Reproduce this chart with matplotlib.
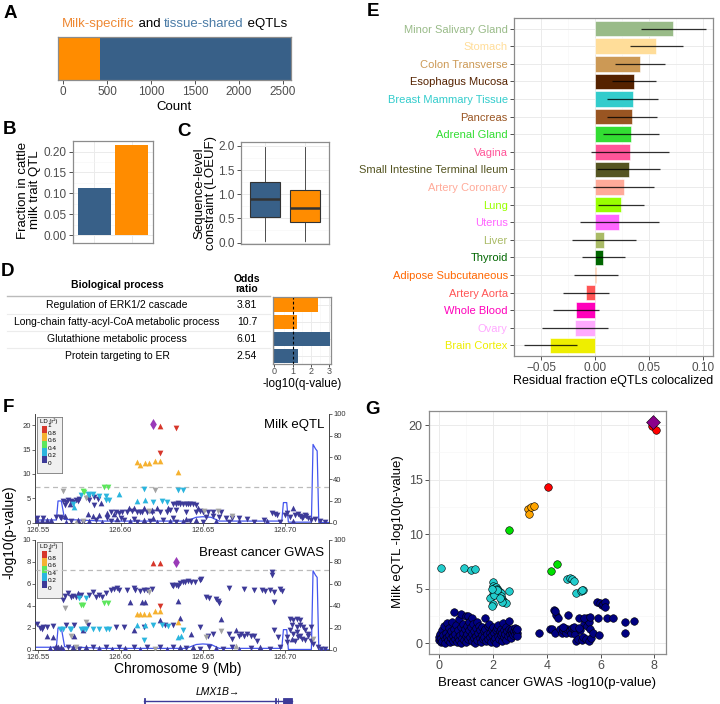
import matplotlib
matplotlib.use('Agg')
import matplotlib.pyplot as plt
from matplotlib.patches import Rectangle
from matplotlib.ticker import AutoMinorLocator

plt.rcParams['font.family'] = ['Liberation Sans', 'DejaVu Sans']

W, H = 720, 704
fig = plt.figure(figsize=(W / 100, H / 100), dpi=100)

BLUE = '#386088'
ORANGE = '#FF8C00'

# ---------------- data ----------------
# A
a_milk_specific = 420
a_tissue_shared = 2170

# B
b_groups = ['tissue-shared', 'milk-specific']
b_fraction = [0.112, 0.215]

# C (box statistics, LOEUF)
c_shared = dict(whislo=0.03, q1=0.52, med=0.90, q3=1.26, whishi=1.97, fliers=[])
c_milk = dict(whislo=0.03, q1=0.43, med=0.72, q3=1.08, whishi=1.98, fliers=[])

# D
d_terms = ['Regulation of ERK1/2 cascade',
           'Long-chain fatty-acyl-CoA metabolic process',
           'Glutathione metabolic process',
           'Protein targeting to ER']
d_odds = ['3.81', '10.7', '6.01', '2.54']
d_logq = [2.38, 1.21, 3.03, 1.27]
d_group = ['milk', 'milk', 'shared', 'shared']

# E
e_tissues = ['Minor Salivary Gland', 'Stomach', 'Colon Transverse', 'Esophagus Mucosa',
             'Breast Mammary Tissue', 'Pancreas', 'Adrenal Gland', 'Vagina',
             'Small Intestine Terminal Ileum', 'Artery Coronary', 'Lung', 'Uterus',
             'Liver', 'Thyroid', 'Adipose Subcutaneous', 'Artery Aorta', 'Whole Blood',
             'Ovary', 'Brain Cortex']
e_resid = [0.0719, 0.0565, 0.0414, 0.0355, 0.0346, 0.0340, 0.0333, 0.0321, 0.0312, 0.0265,
           0.0238, 0.0225, 0.0080, 0.0071, 0.0006, -0.0083, -0.0176, -0.0182, -0.0414]
e_lo = [0.0423, 0.0318, 0.0182, 0.0154, 0.0114, 0.0111, 0.0077, -0.0037, 0.0022, -0.0015,
        0.0025, -0.0139, -0.0210, -0.0120, -0.0191, -0.0296, -0.0389, -0.0491, -0.0660]
e_hi = [0.1022, 0.0815, 0.0645, 0.0562, 0.0580, 0.0571, 0.0590, 0.0682, 0.0599, 0.0549,
        0.0450, 0.0593, 0.0377, 0.0272, 0.0210, 0.0127, 0.0034, 0.0117, -0.0167]
e_colors = ['#99BB88', '#FFDD99', '#CC9955', '#552200', '#33CCCC', '#995522', '#33DD33',
            '#FF5599', '#555522', '#FFAA99', '#99FF00', '#FF66FF', '#AABB66', '#006600',
            '#FF6600', '#FF5555', '#FF00BB', '#FFAAFF', '#EEEE00']

# F  (position Mb, -log10 p, direction u/d)
eqtl_lead = [(126.620, 20.2)]
eqtl_red = [(126.624, 19.9, 'u'), (126.634, 19.5, 'd'), (126.624, 14.2, 'd')]
eqtl_orange = [(126.610, 12.5, 'u'), (126.612, 11.85, 'u'), (126.615, 12.3, 'u'), (126.617, 12.3, 'u'),
               (126.621, 12.7, 'u'), (126.624, 12.6, 'u'), (126.635, 10.5, 'u')]
eqtl_green = [(126.577, 6.6, 'd'), (126.578, 6.2, 'd'), (126.590, 7.3, 'd'), (126.5925, 7.25, 'd')]
eqtl_cyan = [(126.576, 5.7, 'd'), (126.580, 5.95, 'd'), (126.581, 5.7, 'd'), (126.583, 5.8, 'd'),
             (126.587, 5.55, 'd'), (126.591, 5.55, 'd'), (126.591, 4.66, 'd'), (126.593, 4.66, 'd'),
             (126.599, 5.8, 'u'), (126.614, 6.85, 'd'), (126.635, 6.65, 'd'), (126.638, 6.7, 'd'),
             (126.610, 4.45, 'u'), (126.615, 4.66, 'u'), (126.620, 4.3, 'd'), (126.625, 4.45, 'd'),
             (126.628, 4.3, 'd'), (126.572, 3.3, 'u'), (126.571, 3.8, 'd')]
eqtl_grey = [(126.565, 6.5, 'd'), (126.621, 6.7, 'd'), (126.579, 5.0, 'd'), (126.651, 2.3, 'd'),
             (126.659, 2.3, 'd'), (126.617, 2.3, 'd'), (126.573, 0.2, 'u'), (126.577, 0.3, 'd'),
             (126.668, 1.4, 'd')]
eqtl_navy = [
    (126.549, 0.5, 'u'), (126.552, 0.6, 'u'), (126.555, 0.5, 'u'), (126.558, 0.55, 'u'),
    (126.549, 0.9, 'd'), (126.553, 0.9, 'd'), (126.561, 1.2, 'd'), (126.563, 1.2, 'd'),
    (126.566, 1.3, 'u'), (126.564, 0.9, 'd'),
    (126.565, 4.45, 'd'), (126.567, 4.2, 'd'), (126.568, 4.66, 'd'), (126.570, 4.45, 'd'),
    (126.571, 4.3, 'd'), (126.573, 4.66, 'd'), (126.574, 4.45, 'd'), (126.575, 4.86, 'd'),
    (126.580, 5.14, 'd'), (126.581, 4.66, 'd'), (126.584, 5.34, 'd'), (126.586, 4.86, 'd'),
    (126.584, 3.63, 'd'), (126.569, 3.9, 'u'), (126.588, 4.0, 'u'), (126.566, 3.6, 'd'),
    (126.580, 1.7, 'u'), (126.583, 1.44, 'u'), (126.587, 1.58, 'u'), (126.592, 1.9, 'u'),
    (126.596, 1.7, 'u'),
    (126.594, 2.1, 'd'), (126.597, 2.26, 'd'), (126.599, 1.92, 'd'), (126.601, 2.12, 'd'),
    (126.604, 2.26, 'd'), (126.607, 2.4, 'd'), (126.610, 2.12, 'd'), (126.612, 2.26, 'd'),
    (126.613, 2.26, 'd'), (126.616, 2.12, 'd'), (126.619, 2.26, 'd'), (126.624, 2.12, 'd'),
    (126.628, 2.26, 'd'), (126.630, 2.6, 'd'), (126.634, 2.6, 'd'), (126.640, 2.26, 'd'),
    (126.646, 2.12, 'd'), (126.648, 2.4, 'd'),
    (126.605, 2.95, 'u'), (126.608, 3.08, 'u'), (126.614, 2.95, 'u'), (126.619, 2.6, 'u'),
    (126.622, 2.95, 'u'), (126.629, 3.08, 'u'),
    (126.632, 3.9, 'd'), (126.634, 3.9, 'd'), (126.635, 3.97, 'd'), (126.636, 3.84, 'd'),
    (126.638, 3.9, 'd'), (126.640, 3.9, 'd'), (126.641, 3.84, 'd'), (126.642, 3.77, 'd'),
    (126.644, 3.77, 'd'), (126.646, 3.63, 'd'), (126.647, 2.95, 'u'),
    (126.650, 2.12, 'd'), (126.653, 2.26, 'd'), (126.656, 2.26, 'd'), (126.661, 2.26, 'd'),
    (126.652, 1.23, 'd'), (126.656, 1.44, 'd'), (126.660, 1.23, 'd'), (126.664, 1.03, 'd'),
    (126.668, 1.03, 'd'), (126.672, 0.89, 'd'), (126.677, 0.75, 'd'),
    (126.687, 0.55, 'd'), (126.692, 1.92, 'd'), (126.694, 1.71, 'd'), (126.695, 1.58, 'd'),
    (126.700, 1.58, 'd'), (126.701, 1.92, 'd'), (126.703, 1.23, 'd'), (126.705, 2.95, 'u'),
    (126.706, 1.58, 'd'), (126.708, 1.71, 'd'), (126.709, 1.44, 'd'), (126.710, 1.03, 'd'),
    (126.711, 1.23, 'd'), (126.712, 1.58, 'd'), (126.713, 1.44, 'd'), (126.714, 0.89, 'd'),
    (126.716, 0.55, 'd'), (126.718, 0.75, 'd'), (126.721, 0.34, 'd'), (126.724, 0.2, 'd'),
    (126.567, 0.2, 'u'), (126.570, 0.34, 'd'), (126.574, 0.55, 'u'), (126.577, 0.2, 'd'),
    (126.581, 0.34, 'u'), (126.585, 0.48, 'd'), (126.589, 0.2, 'u'), (126.594, 0.34, 'd'),
    (126.598, 0.75, 'u'), (126.602, 0.48, 'd'), (126.606, 0.34, 'u'), (126.610, 0.2, 'd'),
    (126.614, 0.55, 'u'), (126.618, 0.34, 'd'), (126.622, 0.2, 'u'), (126.626, 0.48, 'd'),
    (126.630, 0.34, 'u'), (126.634, 0.2, 'd'), (126.638, 0.41, 'u'), (126.642, 0.27, 'd'),
    (126.646, 0.48, 'u'), (126.650, 0.2, 'd'), (126.658, 0.34, 'u'), (126.666, 0.2, 'd'),
    (126.672, 0.41, 'u'), (126.681, 0.2, 'd'), (126.689, 0.34, 'u'), (126.697, 0.2, 'd'),
    (126.705, 0.34, 'u'), (126.592, 0.9, 'd'), (126.600, 1.0, 'd'), (126.608, 0.8, 'd'),
    (126.620, 1.0, 'u'), (126.632, 0.9, 'd'), (126.640, 0.8, 'u')]

gwas_lead = [(126.634, 8.0)]
gwas_red = [(126.620, 7.9, 'u'), (126.624, 7.9, 'u'), (126.624, 4.0, 'd')]
gwas_orange = [(126.610, 3.3, 'u'), (126.612, 3.3, 'u'), (126.614, 3.3, 'u'), (126.617, 3.3, 'u'),
               (126.621, 3.55, 'u'), (126.624, 3.55, 'u'), (126.635, 2.55, 'u')]
gwas_green = [(126.576, 4.1, 'd'), (126.577, 4.05, 'd'), (126.590, 4.3, 'd'), (126.5925, 4.3, 'd')]
gwas_cyan = [(126.563, 1.95, 'd'), (126.565, 1.95, 'd'), (126.569, 1.95, 'd'), (126.570, 1.9, 'd'),
             (126.576, 1.95, 'd'), (126.578, 1.95, 'd'), (126.579, 1.9, 'd'), (126.583, 1.95, 'd'),
             (126.587, 1.95, 'd'), (126.591, 1.95, 'd'), (126.593, 1.9, 'd'),
             (126.575, 4.75, 'd'), (126.579, 4.75, 'd'), (126.610, 2.25, 'u'), (126.615, 2.3, 'u'),
             (126.620, 2.3, 'd'), (126.625, 2.25, 'd'), (126.629, 2.15, 'd'), (126.635, 1.2, 'u'),
             (126.637, 1.3, 'u'), (126.638, 1.85, 'd'), (126.614, 0.9, 'd')]
gwas_grey = [(126.566, 3.85, 'd'), (126.579, 2.55, 'd'), (126.617, 5.25, 'd'), (126.570, 1.3, 'd'),
             (126.652, 1.15, 'd'), (126.661, 1.7, 'd'), (126.621, 0.1, 'd'), (126.670, 0.4, 'u'),
             (126.717, 1.0, 'd'), (126.573, 0.25, 'd')]
gwas_navy = [
    (126.549, 2.4, 'd'), (126.551, 2.0, 'd'), (126.553, 2.1, 'd'), (126.552, 1.95, 'd'),
    (126.555, 2.1, 'd'), (126.555, 1.3, 'u'), (126.559, 1.15, 'u'), (126.561, 0.4, 'u'),
    (126.562, 0.25, 'u'), (126.564, 0.3, 'u'), (126.560, 0.1, 'd'), (126.557, 0.2, 'u'),
    (126.559, 2.15, 'd'),
    (126.565, 4.55, 'd'), (126.566, 4.95, 'd'), (126.568, 5.15, 'd'), (126.570, 4.85, 'd'),
    (126.571, 4.95, 'd'), (126.573, 4.85, 'd'), (126.574, 5.15, 'u'), (126.576, 5.0, 'd'),
    (126.581, 5.0, 'd'), (126.583, 5.3, 'd'), (126.585, 4.85, 'd'), (126.587, 5.0, 'd'),
    (126.589, 4.8, 'd'), (126.591, 5.2, 'd'), (126.594, 5.45, 'd'), (126.596, 5.55, 'd'),
    (126.598, 5.6, 'd'), (126.599, 5.45, 'd'),
    (126.604, 5.5, 'd'), (126.606, 4.4, 'u'), (126.608, 5.6, 'd'), (126.609, 5.45, 'd'),
    (126.612, 5.4, 'd'), (126.614, 5.45, 'd'), (126.616, 5.45, 'd'), (126.613, 4.4, 'u'),
    (126.615, 4.4, 'u'), (126.619, 5.55, 'd'),
    (126.632, 5.8, 'd'), (126.634, 5.95, 'd'), (126.635, 5.8, 'd'), (126.636, 6.1, 'd'),
    (126.638, 6.15, 'd'), (126.639, 6.15, 'd'), (126.641, 6.25, 'd'), (126.643, 6.15, 'd'),
    (126.645, 6.15, 'd'), (126.648, 6.4, 'd'), (126.649, 6.45, 'd'), (126.631, 5.95, 'd'),
    (126.635, 4.5, 'u'),
    (126.652, 4.85, 'd'), (126.654, 4.7, 'd'), (126.658, 4.6, 'd'), (126.659, 4.5, 'd'),
    (126.660, 4.25, 'd'), (126.666, 5.6, 'd'), (126.675, 5.55, 'd'), (126.681, 5.5, 'd'),
    (126.686, 5.5, 'd'), (126.688, 5.4, 'd'), (126.691, 5.45, 'd'), (126.693, 5.3, 'd'),
    (126.697, 5.55, 'd'), (126.698, 5.4, 'd'), (126.692, 7.1, 'd'), (126.692, 6.8, 'd'),
    (126.693, 4.4, 'd'),
    (126.567, 2.3, 'd'), (126.572, 2.3, 'd'), (126.572, 1.3, 'u'), (126.577, 1.8, 'u'),
    (126.580, 2.25, 'd'), (126.597, 2.1, 'd'), (126.602, 2.1, 'd'), (126.608, 1.8, 'u'),
    (126.614, 2.1, 'd'), (126.624, 2.75, 'u'), (126.627, 2.25, 'd'), (126.632, 2.3, 'd'),
    (126.636, 2.9, 'u'), (126.643, 1.5, 'u'), (126.648, 2.1, 'd'), (126.653, 1.3, 'd'),
    (126.656, 1.5, 'd'), (126.661, 2.85, 'u'), (126.666, 1.5, 'd'), (126.668, 1.0, 'd'),
    (126.670, 1.8, 'u'), (126.672, 1.3, 'd'), (126.673, 1.5, 'd'), (126.675, 1.3, 'd'),
    (126.677, 1.5, 'd'), (126.679, 1.3, 'd'), (126.681, 1.3, 'd'), (126.683, 0.85, 'd'),
    (126.693, 1.8, 'd'), (126.696, 1.15, 'd'), (126.701, 0.7, 'd'),
    (126.703, 2.85, 'd'), (126.705, 2.75, 'd'), (126.707, 2.85, 'd'), (126.709, 2.7, 'd'),
    (126.704, 2.25, 'd'), (126.707, 2.1, 'd'), (126.709, 2.25, 'd'), (126.711, 2.1, 'd'),
    (126.703, 1.8, 'd'), (126.705, 1.5, 'd'), (126.707, 1.6, 'd'), (126.709, 1.3, 'd'),
    (126.712, 1.8, 'd'), (126.714, 1.5, 'd'), (126.716, 2.1, 'd'), (126.701, 1.15, 'd'),
    (126.704, 1.0, 'u'), (126.706, 0.85, 'd'), (126.708, 1.15, 'd'), (126.710, 1.0, 'd'),
    (126.712, 0.9, 'd'), (126.714, 1.3, 'd'), (126.716, 0.85, 'd'), (126.717, 0.55, 'd'),
    (126.720, 0.25, 'd'), (126.722, 0.1, 'd'), (126.724, 0.1, 'd'),
    (126.565, 0.1, 'u'), (126.568, 0.25, 'd'), (126.571, 0.3, 'u'), (126.575, 0.1, 'd'),
    (126.579, 0.25, 'u'), (126.583, 0.3, 'd'), (126.587, 0.2, 'u'), (126.591, 0.25, 'd'),
    (126.595, 0.1, 'u'), (126.599, 0.3, 'd'), (126.603, 0.2, 'u'), (126.608, 0.25, 'd'),
    (126.612, 0.1, 'u'), (126.616, 0.3, 'd'), (126.624, 0.25, 'd'), (126.628, 0.1, 'u'),
    (126.632, 0.25, 'd'), (126.636, 0.3, 'u'), (126.640, 0.15, 'd'), (126.644, 0.25, 'u'),
    (126.648, 0.1, 'd'), (126.654, 0.3, 'd'), (126.658, 0.2, 'u'), (126.662, 0.1, 'd'),
    (126.668, 0.25, 'd'), (126.672, 0.1, 'u'), (126.679, 0.2, 'd'), (126.685, 0.25, 'u'),
    (126.691, 0.1, 'd'), (126.697, 0.25, 'd')]

recomb_pos = [126.548, 126.561, 126.562, 126.564, 126.566, 126.590, 126.640, 126.646, 126.650,
              126.655, 126.660, 126.698, 126.699, 126.701, 126.702, 126.716, 126.717, 126.7185,
              126.7195, 126.7205, 126.727]
recomb_rate = [2.5, 2.5, 20.0, 20.0, 3.0, 1.5, 1.5, 5.0, 5.5, 5.0, 1.5, 1.5, 18.5, 18.5, 0.5, 0.5,
               72.0, 68.0, 66.0, 0.2, 0.2]

gene_start, gene_end = 126.6145, 126.704
gene_exons = [(126.6145, 126.6150), (126.6937, 126.6942), (126.6955, 126.6960), (126.6985, 126.7040)]

# G (GWAS -log10 p, eQTL -log10 p)
g_lead = [(7.96, 20.3)]
g_red = [(7.90, 19.9), (8.04, 19.6), (4.06, 14.3)]
g_orange = [(3.31, 12.3), (3.35, 11.9), (3.40, 12.5), (3.52, 12.6)]
g_green = [(2.59, 10.4), (4.17, 6.6), (4.37, 7.3)]
g_cyan = [(0.07, 6.9), (0.93, 6.9), (1.17, 6.75), (1.33, 6.8),
          (2.0, 5.6), (2.0, 5.3), (2.05, 5.1), (2.1, 5.2), (2.15, 5.0), (2.0, 4.9), (2.08, 4.8),
          (2.2, 4.9), (2.25, 4.7), (2.3, 4.6), (2.12, 4.6), (2.18, 4.5), (2.3, 4.3), (2.35, 4.1),
          (2.38, 3.9), (2.42, 3.8), (2.48, 3.7), (2.35, 3.8), (1.95, 4.3), (1.88, 4.2), (2.0, 3.6),
          (1.98, 3.4), (2.6, 4.8), (2.05, 4.4), (2.25, 4.2), (2.15, 4.9), (1.95, 5.0),
          (4.74, 5.9), (4.86, 6.0), (4.93, 5.9), (5.02, 5.7), (5.08, 4.6), (5.26, 4.8), (5.36, 4.9),
          (5.30, 4.85)]
g_navy = [
    (0.0, 0.3), (0.0, 0.6), (0.02, 0.9), (0.05, 0.1), (0.08, 0.5), (0.1, 1.2), (0.12, 0.2),
    (0.15, 0.8), (0.18, 1.6), (0.2, 0.4), (0.22, 0.0), (0.25, 1.0), (0.28, 0.6), (0.3, 1.9),
    (0.32, 0.3), (0.35, 1.4), (0.38, 0.8), (0.4, 0.1), (0.42, 1.1), (0.45, 0.5), (0.48, 2.0),
    (0.5, 0.7), (0.52, 0.2), (0.55, 2.9), (0.55, 1.3), (0.58, 0.4), (0.6, 0.9), (0.62, 1.7),
    (0.65, 0.1), (0.68, 0.6), (0.7, 1.2), (0.72, 0.3), (0.75, 2.2), (0.78, 0.8), (0.8, 2.7),
    (0.8, 1.5), (0.82, 0.0), (0.85, 0.5), (0.88, 1.0), (0.9, 1.8), (0.92, 0.3), (0.95, 1.3),
    (0.98, 0.7), (1.0, 2.5), (1.0, 0.1), (1.02, 1.6), (1.05, 0.9), (1.07, 2.5), (1.08, 0.4),
    (1.1, 1.2), (1.12, 2.0), (1.15, 0.6), (1.18, 1.5), (1.2, 0.2), (1.2, 2.3), (1.22, 0.9),
    (1.25, 1.8), (1.28, 0.5), (1.3, 1.1), (1.32, 0.0), (1.35, 1.4), (1.38, 0.7), (1.4, 2.0),
    (1.42, 0.3), (1.45, 1.0), (1.48, 1.6), (1.5, 0.5), (1.52, 1.2), (1.55, 0.1), (1.58, 0.8),
    (1.6, 1.5), (1.62, 0.4), (1.65, 1.1), (1.68, 0.6), (1.7, 2.3), (1.72, 1.3), (1.75, 0.2),
    (1.78, 0.9), (1.8, 1.6), (1.82, 0.4), (1.85, 1.8), (1.88, 1.0), (1.9, 0.6), (1.92, 0.1),
    (1.95, 1.3), (1.98, 0.8), (2.0, 1.5), (2.02, 0.3), (2.05, 1.0), (2.08, 0.5), (2.1, 1.2),
    (2.12, 0.0), (2.15, 1.4), (2.18, 0.7), (2.2, 1.7), (2.22, 0.4), (2.25, 1.1), (2.28, 0.8),
    (2.3, 1.3), (2.32, 0.2), (2.35, 1.0), (2.38, 1.9), (2.4, 0.6), (2.42, 1.2), (2.45, 0.9),
    (2.48, 1.5), (2.5, 0.3), (2.52, 1.1), (2.55, 0.7), (2.58, 1.3), (2.6, 2.1), (2.62, 0.9),
    (2.65, 1.2), (2.68, 0.5), (2.7, 1.0), (2.72, 1.3), (2.75, 0.8), (2.78, 1.1), (2.8, 1.4),
    (2.82, 0.9), (2.85, 1.2), (2.88, 1.0), (2.9, 0.7), (2.9, 1.3),
    (3.7, 1.0), (4.1, 1.3), (4.2, 1.3), (4.25, 3.1), (4.35, 2.6), (4.3, 1.0), (4.4, 2.3),
    (4.5, 1.3), (4.55, 1.0), (4.6, 1.2), (4.65, 1.4), (4.7, 1.0), (4.75, 1.3), (4.8, 2.6),
    (4.85, 1.2), (4.9, 1.0), (4.95, 1.4), (5.0, 1.3), (5.05, 0.9), (5.1, 0.2), (5.15, 0.4),
    (5.2, 2.3), (5.25, 1.2), (5.3, 0.3), (5.35, 0.6), (5.4, 1.8), (5.45, 0.4), (5.5, 2.3),
    (5.5, 1.6), (5.55, 0.2), (5.58, 2.0), (5.6, 1.3), (5.65, 0.5), (5.7, 1.0), (5.86, 3.8),
    (5.92, 2.3), (5.95, 0.8), (5.98, 3.7), (6.05, 3.5), (6.1, 3.6), (6.17, 3.8), (6.15, 3.3),
    (6.25, 2.3), (6.45, 2.3), (6.9, 2.0), (6.9, 1.0), (7.25, 2.1), (5.0, 1.5), (5.2, 1.4),
    (4.6, 1.5), (5.4, 2.3), (5.6, 2.4), (4.3, 3.0)]


# ---------------- helpers ----------------
def add_ax(x0, y0, x1, y1):
    return fig.add_axes([x0 / W, 1 - y1 / H, (x1 - x0) / W, (y1 - y0) / H])


def ftext(x, y, s, **kw):
    return fig.text(x / W, 1 - y / H, s, **kw)


def theme_bw(ax, size=8.5):
    for sp in ax.spines.values():
        sp.set_edgecolor('#8c8c8c')
        sp.set_linewidth(0.9)
    ax.tick_params(which='major', length=3, width=0.6, color='#333333',
                   labelcolor='#4d4d4d', labelsize=size, pad=1.5)
    ax.tick_params(which='minor', length=0)
    ax.grid(which='major', color='#ebebeb', lw=0.7)
    ax.grid(which='minor', color='#f5f5f5', lw=0.4)
    ax.set_axisbelow(True)


def panel_label(x, y, s):
    ftext(x, y, s, fontsize=13.5, fontweight='bold', ha='center', va='center')


for lab, (x, y) in zip('ABCDEFG', [(10, 13), (9, 130), (184, 131), (8, 272), (373, 12),
                                   (8, 408), (372, 409)]):
    panel_label(x, y, lab)

# ---------------- A ----------------
ax = add_ax(58, 37, 291, 80)
ax.set_xlim(-60, a_milk_specific + a_tissue_shared)
x0 = ax.get_xlim()[0]
ax.barh(0, a_milk_specific - x0, left=x0, height=1, color=ORANGE)
ax.barh(0, a_tissue_shared, left=a_milk_specific, height=1, color=BLUE)
ax.set_ylim(-0.5, 0.5)
ax.set_yticks([])
ax.set_xticks([0, 500, 1000, 1500, 2000, 2500])
theme_bw(ax)
ax.grid(False)
ftext(174, 107, 'Count', fontsize=9.5, ha='center', va='center')

r = fig.canvas.get_renderer()
parts = [('Milk-specific', '#EE8833'), (' and ', 'black'), ('tissue-shared', '#4A7BA6'),
         (' eQTLs', 'black')]
tmp = [ftext(0, 24, p, fontsize=9.5, va='center') for p, _ in parts]
widths = [t.get_window_extent(renderer=r).width for t in tmp]
for t in tmp:
    t.remove()
xc = 174.5 - sum(widths) / 2
for (p, c), w in zip(parts, widths):
    ftext(xc, 24, p, fontsize=9.5, va='center', ha='left', color=c)
    xc += w

# ---------------- B ----------------
ax = add_ax(73, 141, 153, 243)
ax.bar([1, 2], b_fraction, width=0.9, color=[BLUE, ORANGE])
ax.set_xlim(0.42, 2.58)
ax.set_ylim(-0.019, 0.2255)
ax.set_xticks([1, 2])
ax.set_xticklabels([])
ax.set_yticks([0, 0.05, 0.10, 0.15, 0.20])
ax.set_yticklabels(['0.00', '0.05', '0.10', '0.15', '0.20'])
ax.yaxis.set_minor_locator(AutoMinorLocator(2))
theme_bw(ax)
ax.tick_params(axis='x', length=0)
ftext(29, 190, 'Fraction in cattle\nmilk trait QTL', fontsize=9.5, rotation=90,
      ha='center', va='center', multialignment='center', linespacing=1.0)

# ---------------- C ----------------
ax = add_ax(241, 142, 329, 244)
bp = ax.bxp([c_shared, c_milk], positions=[1, 2], widths=0.75, patch_artist=True,
            showcaps=False, showfliers=False,
            boxprops=dict(edgecolor='#333333', linewidth=0.8),
            medianprops=dict(color='#333333', linewidth=1.8),
            whiskerprops=dict(color='#333333', linewidth=0.6))
for patch, col in zip(bp['boxes'], [BLUE, ORANGE]):
    patch.set_facecolor(col)
ax.set_xlim(0.4, 2.6)
ax.set_ylim(-0.03, 2.08)
ax.set_xticks([1, 2])
ax.set_xticklabels([])
ax.set_yticks([0, 0.5, 1.0, 1.5, 2.0])
ax.set_yticklabels(['0.0', '0.5', '1.0', '1.5', '2.0'])
ax.yaxis.set_minor_locator(AutoMinorLocator(2))
theme_bw(ax)
ax.tick_params(axis='x', length=0)
ftext(205, 193, 'Sequence-level\nconstraint (LOEUF)', fontsize=9.5, rotation=90,
      ha='center', va='center', multialignment='center', linespacing=1.0)

# ---------------- D ----------------
row_y = [305, 322, 339, 356]
ftext(117, 285, 'Biological process', fontsize=7.5, fontweight='bold', ha='center', va='center')
ftext(247, 284, 'Odds\nratio', fontsize=7.5, fontweight='bold', ha='center', va='center',
      linespacing=1.1)
fig.add_artist(plt.Line2D([7 / W, 270 / W], [1 - 296 / H, 1 - 296 / H], color='#bbbbbb', lw=1))
for yy in [313.5, 330.5, 347.5]:
    fig.add_artist(plt.Line2D([7 / W, 270 / W], [1 - yy / H, 1 - yy / H], color='#ececec', lw=0.8))
for yy, term, odds in zip(row_y, d_terms, d_odds):
    ftext(117, yy, term, fontsize=7.5, ha='center', va='center')
    ftext(247, yy, odds, fontsize=7.5, ha='center', va='center')

ax = add_ax(273, 297, 331, 364)
d_pos = [4, 3, 2, 1]
ax.barh(d_pos, d_logq, height=0.85,
        color=[ORANGE if g == 'milk' else BLUE for g in d_group])
ax.axvline(1, color='black', ls=(0, (2.5, 2)), lw=0.8)
ax.set_xlim(-0.08, 3.1)
ax.set_ylim(0.53, 4.47)
ax.set_yticks(d_pos)
ax.set_yticklabels([])
ax.set_xticks([0, 1, 2, 3])
ax.xaxis.set_minor_locator(AutoMinorLocator(2))
theme_bw(ax, size=6.5)
ax.tick_params(axis='x', length=2, pad=0.5)
ax.tick_params(axis='y', length=0)
ftext(302, 384, '-log10(q-value)', fontsize=8.5, ha='center', va='center')

# ---------------- E ----------------
ax = add_ax(514, 18, 713, 356)
e_pos = list(range(len(e_tissues), 0, -1))
ax.barh(e_pos, e_resid, height=0.88, color=e_colors, edgecolor='white', lw=0.4)
ax.hlines(e_pos, e_lo, e_hi, color='black', lw=0.9, alpha=0.8)
ax.set_xlim(-0.075, 0.109)
ax.set_ylim(0.4, len(e_tissues) + 0.6)
ax.set_yticks(e_pos)
ax.set_yticklabels(e_tissues)
ax.set_xticks([-0.05, 0, 0.05, 0.10])
ax.set_xticklabels(['\u22120.05', '0.00', '0.05', '0.10'])
ax.xaxis.set_minor_locator(AutoMinorLocator(2))
theme_bw(ax, size=8.5)
for lbl, col in zip(ax.get_yticklabels(), e_colors):
    lbl.set_color(col)
    lbl.set_fontsize(8)
ftext(613, 381, 'Residual fraction eQTLs colocalized', fontsize=9, ha='center', va='center')

# ---------------- F ----------------
LD_COLORS = ['#3D3A98', '#2BB5DE', '#5CE65C', '#F5B130', '#D6362A']
GREY = '#A3A3A3'
LEAD = '#9A3AB8'
RECOMB = '#4455EE'


def draw_group(ax, pts, color):
    for d, m in (('u', '^'), ('d', 'v')):
        sel = [(p, v) for p, v, dd in pts if dd == d]
        if sel:
            xs, ys = zip(*sel)
            ax.scatter(xs, ys, marker=m, s=17, c=color, lw=0, zorder=3)


def ld_legend(y0, y1):
    lax = add_ax(37, y0, 62, y1)
    lax.set_facecolor('#f0f0f0')
    lax.set_xticks([])
    lax.set_yticks([])
    for sp in lax.spines.values():
        sp.set_edgecolor('#777777')
        sp.set_linewidth(0.6)
    lax.set_xlim(0, 1)
    lax.set_ylim(0, 1)
    lax.text(0.12, 0.92, 'LD (r\u00b2)', fontsize=4.3, va='center', ha='left')
    top, bot = 0.84, 0.17
    step = (top - bot) / 5
    for i, col in enumerate(LD_COLORS):
        lax.add_patch(Rectangle((0.19, bot + i * step), 0.2, step, color=col, lw=0))
    for i, lab in enumerate(['0', '0.2', '0.4', '0.6', '0.8', '1']):
        lax.text(0.42, bot + i * step, lab, fontsize=4.6, va='center', ha='left')


def locus_panel(y0, y1, ymax, yticks, groups, lead, title):
    ax = add_ax(35, y0, 329, y1)
    axr = ax.twinx()
    axr.plot(recomb_pos, recomb_rate, color=RECOMB, lw=0.9)
    axr.set_ylim(0, 100)
    axr.set_yticks([0, 20, 40, 60, 80, 100])
    ax.set_zorder(axr.get_zorder() + 1)
    ax.patch.set_visible(False)
    ax.axhline(7.3, color='#bbbbbb', ls=(0, (4, 3)), lw=0.9, zorder=1)
    for pts, col in groups:
        draw_group(ax, pts, col)
    xs, ys = zip(*lead)
    ax.scatter(xs, ys, marker='d', s=32, c=LEAD, lw=0, zorder=4)
    ax.set_xlim(126.548, 126.7267)
    ax.set_ylim(0, ymax)
    ax.set_yticks(yticks)
    ax.set_xticks([126.55, 126.60, 126.65, 126.70])
    ax.set_xticklabels(['126.55', '126.60', '126.65', '126.70'])
    for a in (ax, axr):
        a.spines['top'].set_visible(False)
        for sp in a.spines.values():
            sp.set_color('#444444')
            sp.set_linewidth(0.6)
        a.tick_params(labelsize=5.5, length=2, width=0.5, pad=1, colors='#333333')
    ax.text(0.985, 0.9 if ymax > 10 else 0.88, title, transform=ax.transAxes, fontsize=9.5,
            ha='right', va='center')
    return ax


locus_panel(414, 522.7, 22.3, [0, 5, 10, 15, 20],
            [(eqtl_navy, LD_COLORS[0]), (eqtl_grey, GREY), (eqtl_cyan, LD_COLORS[1]),
             (eqtl_green, LD_COLORS[2]), (eqtl_orange, LD_COLORS[3]), (eqtl_red, LD_COLORS[4])],
            eqtl_lead, 'Milk eQTL')
ld_legend(417, 473)
locus_panel(540, 650, 10, [0, 2, 4, 6, 8, 10],
            [(gwas_navy, LD_COLORS[0]), (gwas_grey, GREY), (gwas_cyan, LD_COLORS[1]),
             (gwas_green, LD_COLORS[2]), (gwas_orange, LD_COLORS[3]), (gwas_red, LD_COLORS[4])],
            gwas_lead, 'Breast cancer GWAS')
ld_legend(542, 598)
ftext(9, 532, '-log10(p-value)', fontsize=10, rotation=90, ha='center', va='center')
ftext(178, 669, 'Chromosome 9 (Mb)', fontsize=10, ha='center', va='center')

gax = add_ax(35, 684, 329, 704)
gax.set_xlim(126.548, 126.7267)
gax.set_ylim(0, 1)
gax.axis('off')
gax.plot([gene_start, gene_end], [0.15, 0.15], color='#3D3A98', lw=1)
for s0, s1 in gene_exons:
    gax.add_patch(Rectangle((s0, 0.0), s1 - s0, 0.32, color='#3D3A98', lw=0.6))
gax.text((gene_start + gene_end) / 2, 0.6, 'LMX1B\u2192', fontsize=7.5, style='italic',
         ha='center', va='center')

# ---------------- G ----------------
ax = add_ax(429, 411, 666, 654)
for pts, col in [(g_navy, '#000080'), (g_cyan, '#22CCCC'), (g_green, '#00E000'),
                 (g_orange, '#FFA500'), (g_red, '#FF0000')]:
    xs, ys = zip(*pts)
    ax.scatter(xs, ys, s=30, c=col, edgecolors='black', linewidths=0.4, zorder=3)
xs, ys = zip(*g_lead)
ax.scatter(xs, ys, s=50, marker='D', c='#8B008B', edgecolors='black', linewidths=0.4, zorder=4)
ax.set_xlim(-0.38, 8.43)
ax.set_ylim(-0.97, 21.3)
ax.set_xticks([0, 2, 4, 6, 8])
ax.set_yticks([0, 5, 10, 15, 20])
ax.xaxis.set_minor_locator(AutoMinorLocator(2))
ax.yaxis.set_minor_locator(AutoMinorLocator(2))
theme_bw(ax, size=9)
ftext(547, 683, 'Breast cancer GWAS -log10(p-value)', fontsize=9.5, ha='center', va='center')
ftext(398, 532, 'Milk eQTL -log10(p-value)', fontsize=9.5, rotation=90, ha='center', va='center')

fig.savefig('out.png', dpi=100)
